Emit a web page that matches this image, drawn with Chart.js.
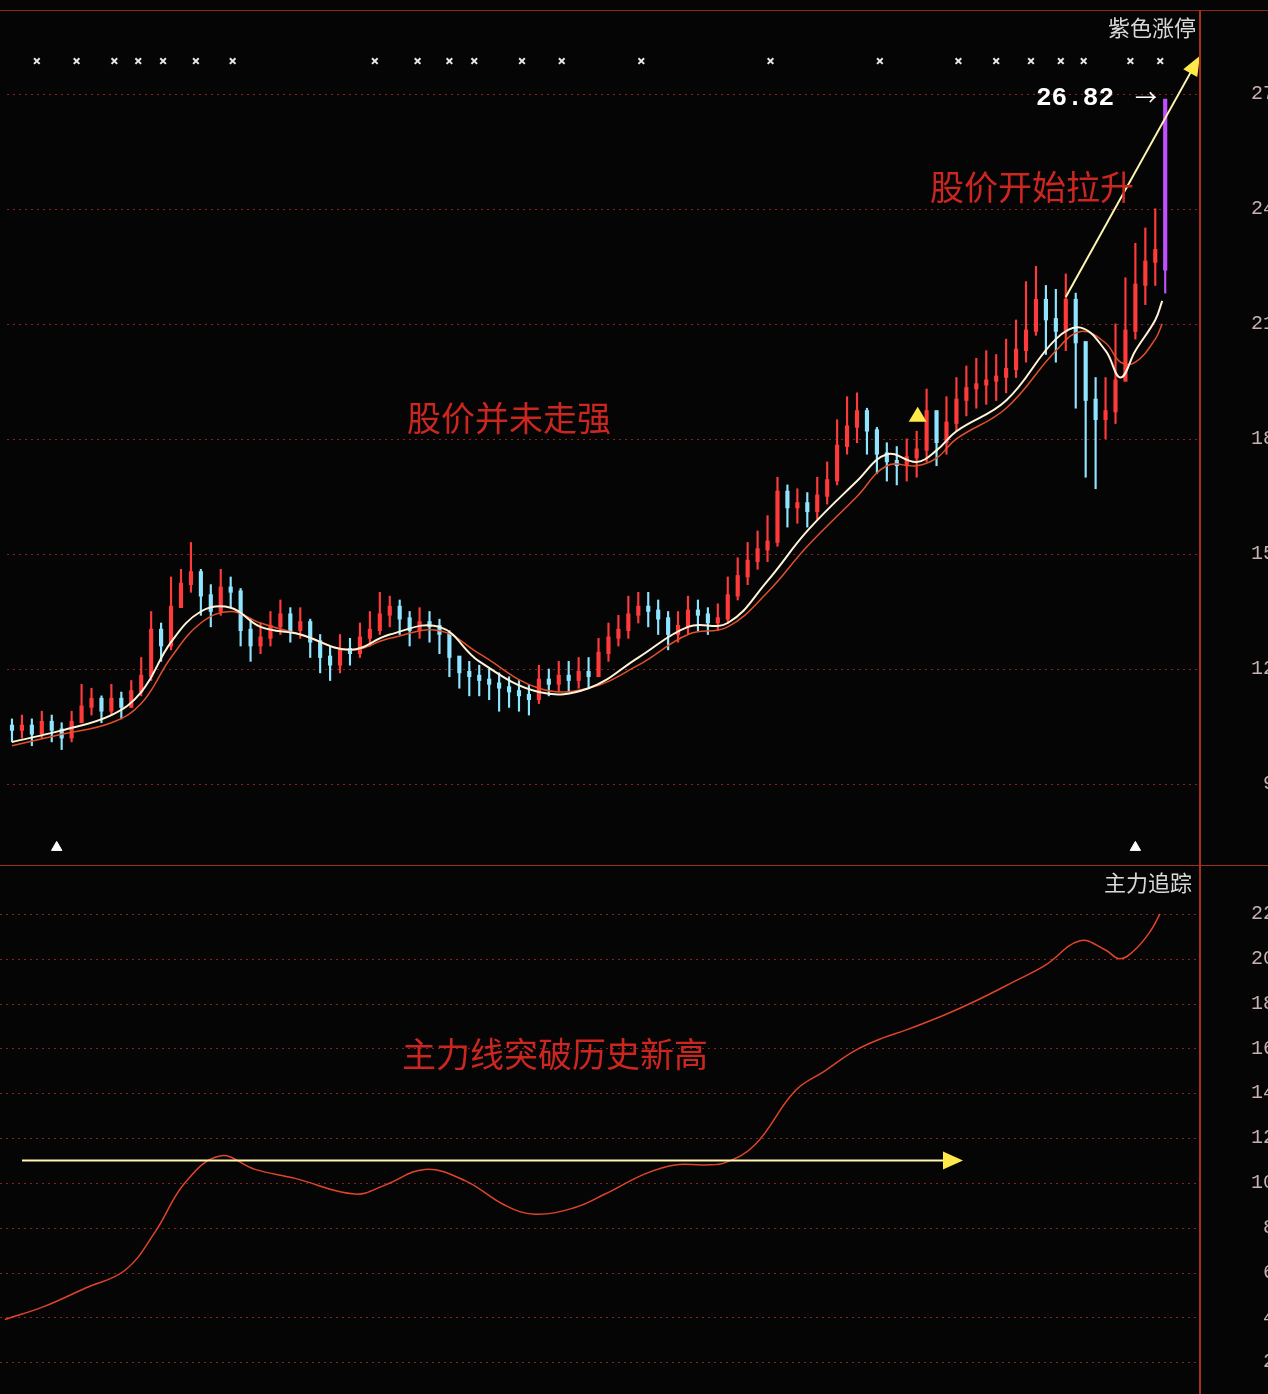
<!DOCTYPE html>
<html><head><meta charset="utf-8">
<script src="https://cdn.jsdelivr.net/npm/chart.js@4"></script>
<style>
html,body{margin:0;padding:0;background:#050505;overflow:hidden;width:1268px;height:1394px;}
.panel{position:absolute;left:0;width:1275px;}
#p1{top:10px;height:855px;border-top:1px solid #8a2a1a;}
#p2{top:865px;height:529px;border-top:1px solid #a03020;}
#vline{position:absolute;left:1199px;top:10px;width:2px;height:1384px;background:#a8301e;}
</style></head><body>
<div class="panel" id="p1"><canvas id="c1"></canvas></div>
<div class="panel" id="p2"><canvas id="c2"></canvas></div>
<div id="vline"></div>
<script>
const categories = Array.from({length:120},(_, i)=>i);
const closes = [10.4,10.5,10.3,10.6,10.4,10.2,10.6,11.0,11.2,10.9,
11.2,11.0,11.4,11.8,13.0,12.6,13.6,14.2,14.5,13.9,
13.5,14.1,14.0,13.0,12.6,12.8,13.1,13.4,13.0,13.2,
12.7,12.3,12.1,12.5,12.4,12.8,13.0,13.4,13.6,13.3,
13.0,13.2,13.1,12.9,12.3,11.9,11.8,11.7,11.6,11.5,
11.4,11.3,11.2,11.7,11.6,11.8,11.7,11.9,11.8,12.4,
12.8,13.0,13.4,13.6,13.5,13.3,12.9,13.1,13.5,13.4,
13.2,13.3,13.9,14.4,14.8,15.1,15.3,16.6,16.2,16.3,
16.1,16.5,16.9,17.8,18.3,18.7,18.2,17.6,17.4,17.3,
17.5,17.7,18.7,17.9,18.4,19.0,19.3,19.4,19.5,19.6,
19.8,20.3,20.8,21.6,21.1,20.8,21.6,20.5,19.0,18.5,
18.7,19.5,20.8,22.0,22.6,22.9,26.82];
const opens = [10.5,10.4,10.5,10.3,10.6,10.4,10.2,10.6,11.0,11.2,
10.9,11.2,11.0,11.4,11.8,13.0,12.6,13.6,14.2,14.5,
13.9,13.5,14.1,14.0,13.0,12.6,12.8,13.1,13.4,13.0,
13.2,12.7,12.3,12.1,12.5,12.4,12.8,13.0,13.4,13.6,
13.3,13.0,13.2,13.1,12.9,12.3,11.9,11.8,11.7,11.6,
11.5,11.4,11.3,11.2,11.7,11.6,11.8,11.7,11.9,11.8,
12.4,12.8,13.0,13.4,13.6,13.5,13.3,12.9,13.1,13.5,
13.4,13.2,13.3,13.9,14.4,14.8,15.1,15.3,16.6,16.2,
16.3,16.1,16.5,16.9,17.8,18.3,18.7,18.2,17.6,17.4,
17.3,17.5,17.7,18.7,17.9,18.4,19.0,19.3,19.4,19.5,
19.6,19.8,20.3,20.8,21.6,21.1,20.8,21.6,20.5,19.0,
18.5,18.7,19.5,20.8,22.0,22.6,22.4];
const highs = [10.7,10.8,10.7,10.9,10.8,10.6,10.9,11.6,11.5,11.3,
11.6,11.4,11.7,12.3,13.5,13.2,14.4,14.6,15.3,14.6,
14.2,14.6,14.4,14.1,13.3,13.2,13.5,13.8,13.6,13.6,
13.3,12.9,12.6,12.9,12.8,13.2,13.5,14.0,13.9,13.8,
13.5,13.6,13.5,13.3,13.0,12.3,12.2,12.1,12.0,11.9,
11.8,11.7,11.6,12.1,12.0,12.2,12.2,12.3,12.3,12.8,
13.2,13.4,13.9,14.0,14.0,13.8,13.5,13.5,13.9,13.8,
13.6,13.7,14.4,14.9,15.3,15.6,16.0,17.0,16.8,16.7,
16.6,17.0,17.4,18.5,19.1,19.2,18.8,18.3,17.9,17.8,
18.0,18.2,19.3,18.6,19.1,19.6,19.9,20.1,20.3,20.2,
20.6,21.1,22.1,22.5,22.0,21.9,22.3,21.8,20.5,19.6,
19.6,21.0,22.2,23.1,23.5,24.0,26.82];
const lows = [10.1,10.2,10.0,10.2,10.1,9.9,10.1,10.6,10.8,10.6,
10.8,10.7,11.0,11.3,11.7,12.2,12.5,13.6,14.0,13.4,
13.1,13.4,13.6,12.6,12.2,12.4,12.6,12.9,12.7,12.8,
12.3,11.9,11.7,11.9,12.1,12.3,12.6,12.9,13.1,12.9,
12.6,12.8,12.7,12.4,11.8,11.5,11.3,11.3,11.2,10.9,
11.0,10.9,10.8,11.1,11.3,11.4,11.4,11.5,11.5,11.8,
12.2,12.6,12.8,13.2,13.1,12.9,12.5,12.7,12.9,13.0,
12.9,13.0,13.2,13.8,14.2,14.6,14.8,15.2,15.7,15.8,
15.7,15.9,16.3,16.8,17.6,17.9,17.6,17.1,16.9,16.8,
16.9,17.0,17.4,17.3,17.6,18.2,18.6,18.8,18.9,19.0,
19.2,19.6,20.0,20.7,20.2,20.0,20.3,18.8,17.0,16.7,
18.0,18.4,19.6,20.6,21.5,22.0,21.8];
const maWhiteIdx = [0,5,10,13,16,19,22,25,29,34,38,43,47,53,58,63,68,72,76,80,85,88,91,93,95,100,105,107.5,110,111.5,113,115,115.7];
const maWhite = [10.1,10.4,10.8,11.4,12.7,13.5,13.6,13.1,12.9,12.5,12.9,13.1,12.2,11.4,11.5,12.3,13.1,13.2,14.3,15.6,16.9,17.6,17.4,17.7,18.2,19.0,20.6,20.9,20.3,19.6,20.3,21.1,21.6];
const maRed = [10.0,10.3,10.6,11.1,12.3,13.2,13.5,13.2,12.9,12.5,12.8,13.0,12.4,11.5,11.5,12.1,12.9,13.1,14.0,15.2,16.5,17.3,17.3,17.5,18.0,18.8,20.3,20.8,20.5,20.0,20.0,20.6,21.0];
const signalIdx = [2.5,6.5,10.3,12.7,15.2,18.5,22.2,36.5,40.8,44,46.5,51.3,55.3,63.3,76.3,87.3,95.2,99,102.5,105.5,107.8,112.5,115.5];
const zlIdx = [0,4,8,12,15,18,21.5,25,29,35,38,42,46,50,53,57,60,64,67,70,72,75,79,82,85,88,90,94,97,101,104,107.5,110,111.5,113,114.5,115.5];
const zlValues = [3.9,4.5,5.3,6.1,7.8,10.0,11.2,10.6,10.2,9.5,9.9,10.6,10.1,9.0,8.6,8.9,9.5,10.4,10.8,10.8,10.9,11.7,14.1,15.0,15.9,16.5,16.8,17.5,18.1,19.0,19.7,20.8,20.4,20.0,20.4,21.2,22.0];
const priceTicks = [9,12,15,18,21,24,27];
const zlTicks = [2,4,6,8,10,12,14,16,18,20,22];

const bodyColors = closes.map((c,i)=> i===closes.length-1 ? '#c050ff' : (c>=opens[i] ? '#ff3a3a' : '#8fe4ff'));
const pts = (xs,ys)=>xs.map((x,i)=>({x, y:ys[i]}));

function rightAxis(min,max,ticks){
  return {position:'right', min, max,
    afterFit(s){ s.width = 75; },
    afterBuildTicks(s){ s.ticks = ticks.map(v=>({value:v})); },
    border:{display:false},
    grid:{display:false},
    ticks:{color:'#c8b0b0', padding:2, crossAlign:'far', font:{family:'Liberation Mono', size:20}}};
}
const dotGrid = {
  id:'dotGrid',
  beforeDatasetsDraw(chart){
    const {ctx, chartArea:a, scales:{y}} = chart;
    ctx.save(); ctx.strokeStyle='rgba(170,40,35,0.8)'; ctx.lineWidth=1; ctx.setLineDash([2,4]);
    y.ticks.forEach(t=>{ const py=Math.round(y.getPixelForValue(t.value))+0.5;
      ctx.beginPath(); ctx.moveTo(a.left,py); ctx.lineTo(a.right,py); ctx.stroke(); });
    ctx.restore();
  }
};
const xScale = {type:'linear', display:false, offset:false, min:-0.5, max:119.5};

const annot1 = {
  id:'annot1',
  afterDatasetsDraw(chart){
    const {ctx, scales:{x,y}} = chart;
    ctx.save();
    const x0=x.getPixelForValue(106), y0=y.getPixelForValue(21.7);
    const x1=x.getPixelForValue(119.3), y1=y.getPixelForValue(27.9);
    ctx.strokeStyle='#fff6b0'; ctx.lineWidth=2;
    ctx.beginPath(); ctx.moveTo(x0,y0); ctx.lineTo(x1,y1); ctx.stroke();
    const ang=Math.atan2(y1-y0,x1-x0);
    ctx.fillStyle='#ffe84a';
    ctx.beginPath(); ctx.moveTo(x1+4*Math.cos(ang),y1+4*Math.sin(ang));
    ctx.lineTo(x1-16*Math.cos(ang)+8*Math.sin(ang), y1-16*Math.sin(ang)-8*Math.cos(ang));
    ctx.lineTo(x1-16*Math.cos(ang)-8*Math.sin(ang), y1-16*Math.sin(ang)+8*Math.cos(ang));
    ctx.closePath(); ctx.fill();
    const tx=x.getPixelForValue(91), ty=y.getPixelForValue(18.6);
    ctx.beginPath(); ctx.moveTo(tx-8,ty+6); ctx.lineTo(tx+10,ty+6); ctx.lineTo(tx+1,ty-9); ctx.closePath(); ctx.fill();
    ctx.textBaseline='middle';
    ctx.fillStyle='#d8d8d8'; ctx.font='22px "Noto Sans CJK SC"'; ctx.textAlign='right';
    ctx.fillText('紫色涨停', 1196, 17);
    ctx.fillStyle='#ffffff'; ctx.font='bold 26px "Liberation Mono"'; ctx.textAlign='left';
    ctx.fillText('26.82', 1036, y.getPixelForValue(26.82)-2);
    ctx.font='22px "Noto Sans CJK SC"'; ctx.fillText('→', 1135, y.getPixelForValue(26.82)-4);
    ctx.fillStyle='#cc2620'; ctx.font='34px "Noto Sans CJK SC"';
    ctx.fillText('股价开始拉升', 930, 176);
    ctx.fillText('股价并未走强', 407, 407);
    ctx.restore();
  }
};
const annot2 = {
  id:'annot2',
  afterDatasetsDraw(chart){
    const {ctx, scales:{x,y}} = chart;
    ctx.save();
    const yy=y.getPixelForValue(11.0), xa=x.getPixelForValue(1.7), xb=x.getPixelForValue(95.2);
    ctx.strokeStyle='#fff6b0'; ctx.lineWidth=2;
    ctx.beginPath(); ctx.moveTo(xa,yy); ctx.lineTo(xb,yy); ctx.stroke();
    ctx.fillStyle='#ffe84a';
    ctx.beginPath(); ctx.moveTo(xb+6,yy); ctx.lineTo(xb-14,yy-9); ctx.lineTo(xb-14,yy+9); ctx.closePath(); ctx.fill();
    ctx.textBaseline='middle';
    ctx.fillStyle='#d8d8d8'; ctx.font='22px "Noto Sans CJK SC"'; ctx.textAlign='right';
    ctx.fillText('主力追踪', 1192, 17);
    ctx.fillStyle='#cc2620'; ctx.font='34px "Noto Sans CJK SC"'; ctx.textAlign='left';
    ctx.fillText('主力线突破历史新高', 402, 188);
    ctx.restore();
  }
};

Chart.defaults.animation=false;
new Chart(document.getElementById('c1'), {
  type:'bar',
  data:{datasets:[
    {type:'line', data:pts(maWhiteIdx, maRed), borderColor:'#e0502a', borderWidth:1.5, pointRadius:0, tension:0.4, order:1},
    {type:'line', data:pts(maWhiteIdx, maWhite), borderColor:'#fff4d8', borderWidth:2, pointRadius:0, tension:0.4, order:0},
    {data:closes.map((c,i)=>({x:categories[i], y:[lows[i],highs[i]]})), backgroundColor:bodyColors, barThickness:1.5, grouped:false, order:3},
    {data:closes.map((c,i)=>({x:categories[i], y:[Math.min(opens[i],c), Math.max(opens[i],c)+0.04]})), backgroundColor:bodyColors, barThickness:3.5, grouped:false, order:2},
    {type:'scatter', data:signalIdx.map(v=>({x:v,y:27.85})), pointStyle:'crossRot', pointRadius:4, borderColor:'#e8e8e8', borderWidth:2, order:0},
    {type:'scatter', data:[{x:4.5,y:7.35},{x:113,y:7.35}], pointStyle:'triangle', pointRadius:6, backgroundColor:'#ffffff', borderColor:'#ffffff', order:0}
  ]},
  options:{responsive:true, maintainAspectRatio:false, events:[],
    layout:{padding:{top:2,bottom:2,left:0,right:0}},
    plugins:{legend:{display:false}, tooltip:{enabled:false}},
    scales:{x:xScale, y:rightAxis(7.23,28.79,priceTicks)}},
  plugins:[dotGrid, annot1]
});
new Chart(document.getElementById('c2'), {
  type:'line',
  data:{datasets:[
    {data:pts(zlIdx, zlValues), borderColor:'#e0442a', borderWidth:1.5, pointRadius:0, tension:0.4}
  ]},
  options:{responsive:true, maintainAspectRatio:false, events:[],
    layout:{padding:{top:3,bottom:0,left:0,right:0}},
    plugins:{legend:{display:false}, tooltip:{enabled:false}},
    scales:{x:xScale, y:rightAxis(1.16,23.51,zlTicks)}},
  plugins:[dotGrid, annot2]
});
</script></body></html>
